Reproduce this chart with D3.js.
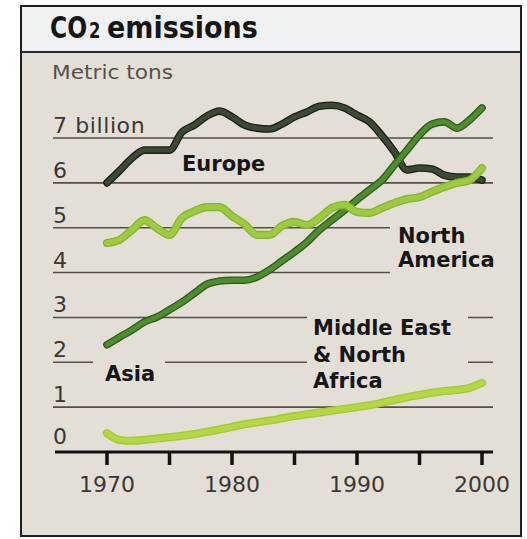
<!DOCTYPE html>
<html>
<head>
<meta charset="utf-8">
<script src="https://cdn.jsdelivr.net/npm/d3@7/dist/d3.min.js"></script>
<style>
  html, body { margin: 0; padding: 0; background: #ffffff; }
  svg { display: block; }
</style>
</head>
<body>
<svg id="chart" width="527" height="539"></svg>
<script>
// Annual CO2 emissions by region, billions of metric tons
const years = d3.range(1970, 2001);

const europe = [6.00, 6.27, 6.55, 6.73, 6.73, 6.73, 7.13, 7.29, 7.49, 7.60,
                7.47, 7.29, 7.22, 7.20, 7.31, 7.47, 7.58, 7.71, 7.73, 7.67,
                7.51, 7.36, 7.05, 6.69, 6.29, 6.33, 6.31, 6.17, 6.13, 6.13, 6.06];

const northAmerica = [4.66, 4.73, 4.95, 5.17, 4.99, 4.84, 5.22, 5.37, 5.46, 5.46,
                      5.26, 5.08, 4.84, 4.84, 5.04, 5.13, 5.06, 5.22, 5.44, 5.51,
                      5.35, 5.33, 5.44, 5.55, 5.64, 5.68, 5.80, 5.91, 6.00, 6.06, 6.33];

const asia = [2.39, 2.56, 2.72, 2.90, 3.01, 3.17, 3.34, 3.54, 3.74, 3.81,
              3.83, 3.83, 3.90, 4.06, 4.26, 4.46, 4.68, 4.95, 5.17, 5.39,
              5.62, 5.84, 6.06, 6.40, 6.73, 7.07, 7.31, 7.36, 7.22, 7.40, 7.67];

const middleEast = [0.42, 0.27, 0.25, 0.27, 0.30, 0.33, 0.36, 0.40, 0.45, 0.50,
                    0.56, 0.62, 0.66, 0.70, 0.75, 0.80, 0.84, 0.88, 0.92, 0.96,
                    1.00, 1.04, 1.10, 1.16, 1.22, 1.27, 1.32, 1.36, 1.38, 1.43, 1.54];

const yTicks = [0, 1, 2, 3, 4, 5, 6, 7];
const yTickLabels = ["0", "1", "2", "3", "4", "5", "6", "7 billion"];
const xTicks = d3.range(1970, 2001, 5);
const xTickLabels = [1970, 1980, 1990, 2000];

const series = [
  { name: ["Europe"], values: europe, casing: "#1b2016", core: "#3c4a33", w: 5 },
  { name: ["Asia"], values: asia, casing: "#2e5b1d", core: "#4d8d2d", w: 5 },
  { name: ["North", "America"], values: northAmerica, casing: "#86b334", core: "#9ccb3d", w: 5.5 },
  { name: ["Middle East", "& North", "Africa"], values: middleEast, casing: "#a3c738", core: "#b3d843", w: 5.5 }
];

const svg = d3.select("#chart");

const x = d3.scaleLinear().domain([1970, 2000]).range([107, 482]);
const y = d3.scaleLinear().domain([0, 7]).range([452, 138]);
const gridLeft = 53, gridRight = 493;

// panel frame: beige body, pale title band, dark border
svg.append("rect").attr("x", 21).attr("y", 6).attr("width", 500).attr("height", 530)
  .attr("fill", "#e4dfd6");
svg.append("rect").attr("x", 21).attr("y", 6).attr("width", 500).attr("height", 46)
  .attr("fill", "#eef0f2");
svg.append("line").attr("x1", 21).attr("x2", 521).attr("y1", 52).attr("y2", 52)
  .attr("stroke", "#2a2a2a").attr("stroke-width", 2);
svg.append("rect").attr("x", 21).attr("y", 6).attr("width", 500).attr("height", 530)
  .attr("fill", "none").attr("stroke", "#1e1e1e").attr("stroke-width", 2);

// title: "CO", a small "2", then "emissions", each squeezed horizontally
const titleParts = [
  { text: "CO", x: 50, size: 30, sx: 0.78 },
  { text: "2", x: 89, size: 21, sx: 0.78 },
  { text: "emissions", x: 107, size: 30, sx: 0.9 }
];
svg.append("g").selectAll("text")
  .data(titleParts)
  .join("text")
  .attr("transform", d => `translate(${d.x},38) scale(${d.sx},1)`)
  .attr("font-family", "'DejaVu Sans', sans-serif")
  .attr("font-weight", "bold")
  .attr("font-size", d => d.size)
  .attr("fill", "#161616")
  .text(d => d.text);

svg.append("text")
  .attr("x", 52).attr("y", 79)
  .attr("font-family", "'DejaVu Sans', sans-serif")
  .attr("font-size", 19)
  .attr("fill", "#555049")
  .attr("textLength", 121)
  .attr("lengthAdjust", "spacingAndGlyphs")
  .text("Metric tons");

// horizontal gridlines (zero line drawn as the axis)
const grid = svg.append("g");
grid.selectAll("line")
  .data(yTicks.filter(d => d > 0))
  .join("line")
  .attr("x1", gridLeft).attr("x2", gridRight)
  .attr("y1", d => y(d)).attr("y2", d => y(d))
  .attr("stroke", "#564e45").attr("stroke-width", 1.6);

// label knock-outs that break the gridlines
const knock = svg.append("g").attr("fill", "#e4dfd6");
knock.append("rect").attr("x", 390).attr("y", 220).attr("width", 110).attr("height", 58);
knock.append("rect").attr("x", 307).attr("y", 310).attr("width", 161).attr("height", 82);
knock.append("rect").attr("x", 93).attr("y", 355).attr("width", 72).attr("height", 30);

// y tick labels sit just above their gridlines
svg.append("g").selectAll("text")
  .data(yTicks)
  .join("text")
  .attr("x", gridLeft)
  .attr("y", d => d === 0 ? y(d) - 8 : y(d) - 5)
  .attr("font-family", "'DejaVu Sans', sans-serif")
  .attr("font-size", 22)
  .attr("letter-spacing", 0.6)
  .attr("fill", "#3a3733")
  .text((d, i) => yTickLabels[i]);

// x axis baseline and ticks
const axis = svg.append("g");
axis.append("line")
  .attr("x1", gridLeft + 2).attr("x2", gridRight)
  .attr("y1", y(0)).attr("y2", y(0))
  .attr("stroke", "#111").attr("stroke-width", 3.2);
axis.selectAll("line.tick")
  .data(xTicks)
  .join("line")
  .attr("class", "tick")
  .attr("x1", d => x(d)).attr("x2", d => x(d))
  .attr("y1", y(0)).attr("y2", y(0) + 13)
  .attr("stroke", "#111").attr("stroke-width", 3.5);
axis.selectAll("text")
  .data(xTickLabels)
  .join("text")
  .attr("x", d => x(d))
  .attr("y", 492)
  .attr("text-anchor", "middle")
  .attr("font-family", "'DejaVu Sans', sans-serif")
  .attr("font-size", 22)
  .attr("fill", "#3a3733")
  .text(d => d);

// data lines: dark casing under a coloured core
const line = d3.line()
  .x((d, i) => x(years[i]))
  .y(d => y(d))
  .curve(d3.curveMonotoneX);

const lines = svg.append("g")
  .attr("fill", "none")
  .attr("stroke-linejoin", "round")
  .attr("stroke-linecap", "round");
series.forEach(s => {
  lines.append("path").attr("d", line(s.values))
    .attr("stroke", s.casing).attr("stroke-width", s.w + 2.6);
  lines.append("path").attr("d", line(s.values))
    .attr("stroke", s.core).attr("stroke-width", s.w);
});

// series labels
const labelPos = {
  "Europe": { x: 182, y: 171 },
  "Asia": { x: 105, y: 381 },
  "North": { x: 398, y: 243 },
  "Middle East": { x: 313, y: 335 }
};
const lineGap = { "North": 24, "Middle East": 26.5 };
series.forEach(s => {
  const p = labelPos[s.name[0]];
  const gap = lineGap[s.name[0]] || 0;
  const t = svg.append("text")
    .attr("font-family", "'DejaVu Sans', sans-serif")
    .attr("font-weight", "bold")
    .attr("font-size", 21)
    .attr("fill", "#161616");
  s.name.forEach((n, i) => {
    t.append("tspan").attr("x", p.x).attr("y", p.y + i * gap).text(n);
  });
});
</script>
</body>
</html>
